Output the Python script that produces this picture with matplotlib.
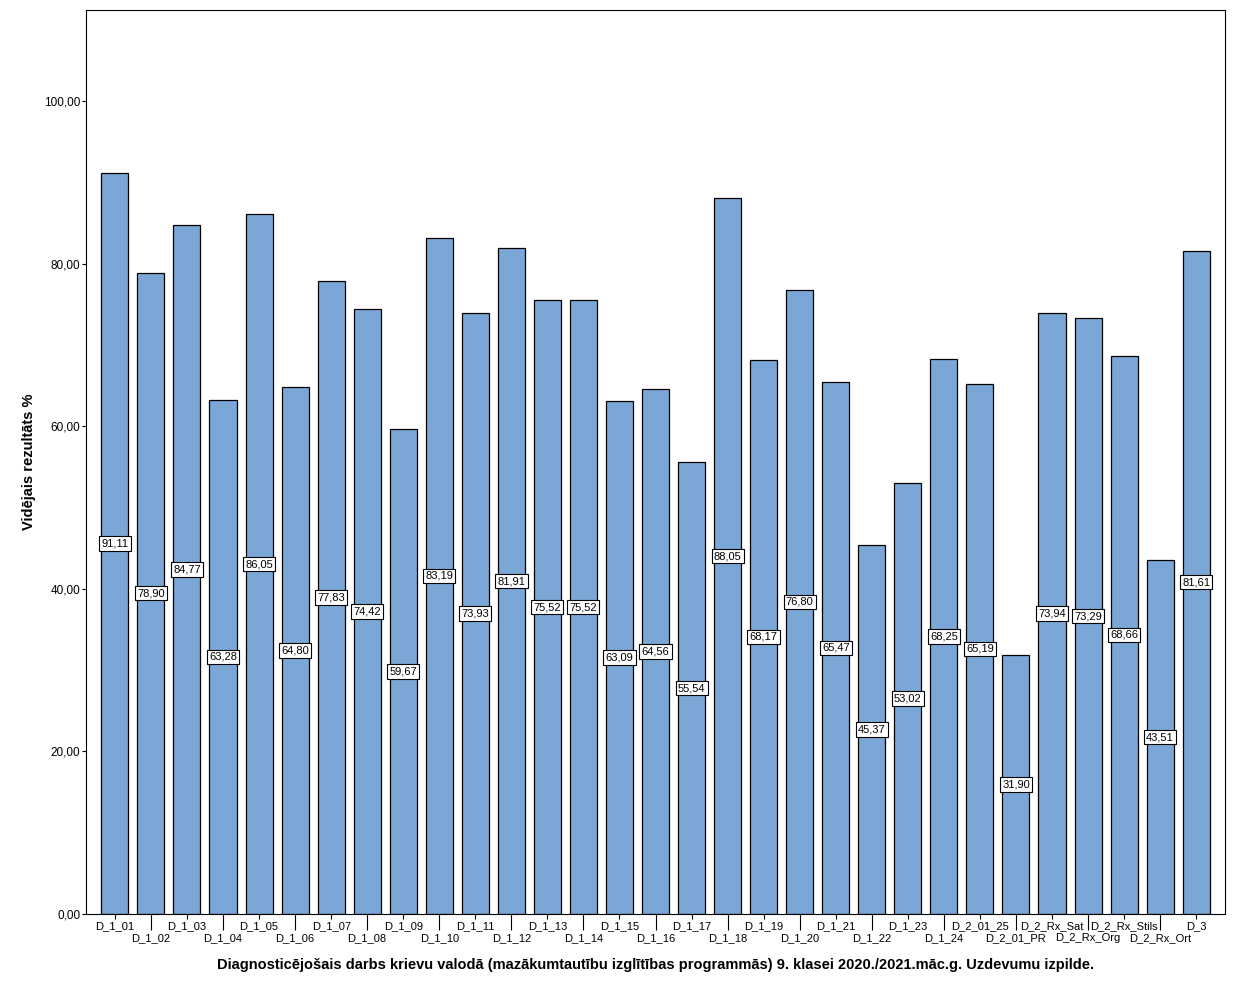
import numpy as np
import matplotlib.pyplot as plt

plt.rcParams['font.family'] = ['Liberation Sans', 'DejaVu Sans']

labels = ['D_1_01', 'D_1_02', 'D_1_03', 'D_1_04', 'D_1_05', 'D_1_06', 'D_1_07', 'D_1_08',
          'D_1_09', 'D_1_10', 'D_1_11', 'D_1_12', 'D_1_13', 'D_1_14', 'D_1_15', 'D_1_16',
          'D_1_17', 'D_1_18', 'D_1_19', 'D_1_20', 'D_1_21', 'D_1_22', 'D_1_23', 'D_1_24',
          'D_2_01_25', 'D_2_01_PR', 'D_2_Rx_Sat', 'D_2_Rx_Org', 'D_2_Rx_Stils', 'D_2_Rx_Ort', 'D_3']
values = [91.11, 78.90, 84.77, 63.28, 86.05, 64.80, 77.83, 74.42, 59.67, 83.19, 73.93,
          81.91, 75.52, 75.52, 63.09, 64.56, 55.54, 88.05, 68.17, 76.80, 65.47, 45.37,
          53.02, 68.25, 65.19, 31.90, 73.94, 73.29, 68.66, 43.51, 81.61]

fig = plt.figure(figsize=(12.38, 9.9), dpi=100)
ax = fig.add_axes([0.0695, 0.0768, 0.92, 0.9131])

x = np.arange(len(values))
ax.bar(x, values, width=0.75, color='#7ba7d6', edgecolor='black', linewidth=0.9, zorder=2)

for xi, v in zip(x, values):
    ax.text(xi, v / 2, f'{v:.2f}'.replace('.', ','), ha='center', va='center', fontsize=8,
            bbox=dict(boxstyle='square,pad=0.2', facecolor='white', edgecolor='black', linewidth=0.8),
            zorder=3)

ax.set_xlim(-0.8, len(values) - 0.2)
ax.set_ylim(0, 111.2)

# staggered category labels: even positions short ticks, odd positions long ticks
ax.set_xticks(x[::2], labels[::2])
ax.set_xticks(x[1::2], labels[1::2], minor=True)
ax.tick_params(axis='x', which='major', length=3.6, width=0.8, pad=1.5, labelsize=8)
ax.tick_params(axis='x', which='minor', length=11.5, width=0.8, pad=2.2, labelsize=8)

yt = [0, 20, 40, 60, 80, 100]
ax.set_yticks(yt, [f'{t:.2f}'.replace('.', ',') for t in yt])
ax.tick_params(axis='y', length=3, width=0.8, pad=1, labelsize=8.5)

for s in ax.spines.values():
    s.set_linewidth(0.8)

ax.set_ylabel('Vidējais rezultāts %', fontsize=10.5, fontweight='bold', labelpad=6)
ax.set_xlabel('Diagnosticējošais darbs krievu valodā (mazākumtautību izglītības programmās) '
              '9. klasei 2020./2021.māc.g. Uzdevumu izpilde.', fontsize=10.5, fontweight='bold',
              labelpad=11)

fig.savefig('out.png', dpi=100)
